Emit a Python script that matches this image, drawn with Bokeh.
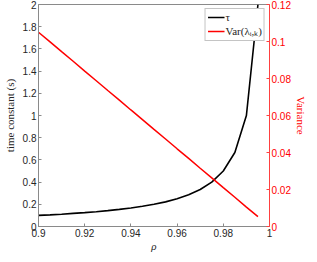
from bokeh.plotting import figure
from bokeh.models import LinearAxis, Range1d, Legend, LegendItem, FixedTicker
from bokeh.embed import file_html
from bokeh.resources import INLINE

# ---- data ----
rho = [0.900, 0.905, 0.910, 0.915, 0.920, 0.925, 0.930, 0.935, 0.940, 0.945,
       0.950, 0.955, 0.960, 0.965, 0.970, 0.975, 0.980, 0.985, 0.990, 0.995]
tau = [0.100, 0.105, 0.111, 0.118, 0.125, 0.133, 0.143, 0.154, 0.167, 0.182,
       0.200, 0.222, 0.250, 0.286, 0.333, 0.400, 0.500, 0.667, 1.000, 2.000]
variance = [0.1050, 0.0998, 0.0945, 0.0893, 0.0840, 0.0788, 0.0735, 0.0683,
            0.0630, 0.0578, 0.0525, 0.0473, 0.0420, 0.0368, 0.0315, 0.0263,
            0.0210, 0.0158, 0.0105, 0.0053]
x_ticks = [0.9, 0.92, 0.94, 0.96, 0.98, 1.0]
x_labels = ["0.9", "0.92", "0.94", "0.96", "0.98", "1"]
left_ticks = [0, 0.2, 0.4, 0.6, 0.8, 1.0, 1.2, 1.4, 1.6, 1.8, 2.0]
left_labels = ["0", "0.2", "0.4", "0.6", "0.8", "1", "1.2", "1.4", "1.6", "1.8", "2"]
right_ticks = [0, 0.02, 0.04, 0.06, 0.08, 0.1, 0.12]
right_labels = ["0", "0.02", "0.04", "0.06", "0.08", "0.1", "0.12"]

AX = "#8a8a8a"
TXT = "#262626"
RED = "#ff0000"
TICK_FONT = "Liberation Sans"
SERIF = "Liberation Serif"

p = figure(width=309, height=254, output_backend="svg", toolbar_location=None,
           x_range=Range1d(0.9, 1.0), y_range=Range1d(0, 2),
           min_border_left=0, min_border_right=0, min_border_top=4, min_border_bottom=0,
           x_axis_location=None, y_axis_location=None)
p.extra_y_ranges = {"var": Range1d(0, 0.12)}
p.grid.visible = False
p.outline_line_color = AX
p.background_fill_color = "white"
p.border_fill_color = "white"

def style(ax, color_line, color_text, fsize="10px"):
    ax.axis_line_color = color_line
    ax.major_tick_line_color = color_line
    ax.major_tick_in = 3
    ax.major_tick_out = 0
    ax.minor_tick_line_color = None
    ax.major_label_text_color = color_text
    ax.major_label_text_font = TICK_FONT
    ax.major_label_text_font_size = fsize
    ax.major_label_standoff = 2

xax = LinearAxis(ticker=FixedTicker(ticks=x_ticks),
                 major_label_overrides=dict(zip(x_ticks, x_labels)))
style(xax, AX, TXT)
xax.axis_label = "ρ"
xax.axis_label_text_font = SERIF
xax.axis_label_text_font_style = "italic"
xax.axis_label_text_font_size = "11px"
xax.axis_label_text_color = TXT
xax.axis_label_standoff = 0
p.add_layout(xax, "below")

yax = LinearAxis(ticker=FixedTicker(ticks=left_ticks),
                 major_label_overrides=dict(zip(left_ticks, left_labels)))
style(yax, AX, TXT)
yax.axis_label = "time constant (s)"
yax.axis_label_text_font = SERIF
yax.axis_label_text_font_style = "normal"
yax.axis_label_text_font_size = "11px"
yax.axis_label_text_color = TXT
yax.axis_label_standoff = 4
p.add_layout(yax, "left")

rax = LinearAxis(y_range_name="var", ticker=FixedTicker(ticks=right_ticks),
                 major_label_overrides=dict(zip(right_ticks, right_labels)))
style(rax, "#ff4040", RED)
rax.axis_label = "Variance"
rax.axis_label_text_font = SERIF
rax.axis_label_text_font_style = "normal"
rax.axis_label_text_font_size = "11px"
rax.axis_label_text_color = RED
rax.axis_label_standoff = 1
p.add_layout(rax, "right")

r1 = p.line(rho, tau, line_color="black", line_width=1.6)
r2 = p.line(rho, variance, y_range_name="var", line_color=RED, line_width=1.5)

legend = Legend(items=[LegendItem(label="τ", renderers=[r1]),
                       LegendItem(label="Var(λᵢ,ₖ)", renderers=[r2])],
                location="top_right")
legend.label_text_font = SERIF
legend.label_text_font_size = "11px"
legend.label_text_color = TXT
legend.border_line_color = AX
legend.background_fill_color = "white"
legend.background_fill_alpha = 1
legend.margin = 4
legend.padding = 2
legend.spacing = 0
legend.glyph_width = 17
legend.glyph_height = 12
legend.label_standoff = 1
legend.label_height = 12
p.add_layout(legend, "center")

open("out.html", "w").write(file_html(p, INLINE))
